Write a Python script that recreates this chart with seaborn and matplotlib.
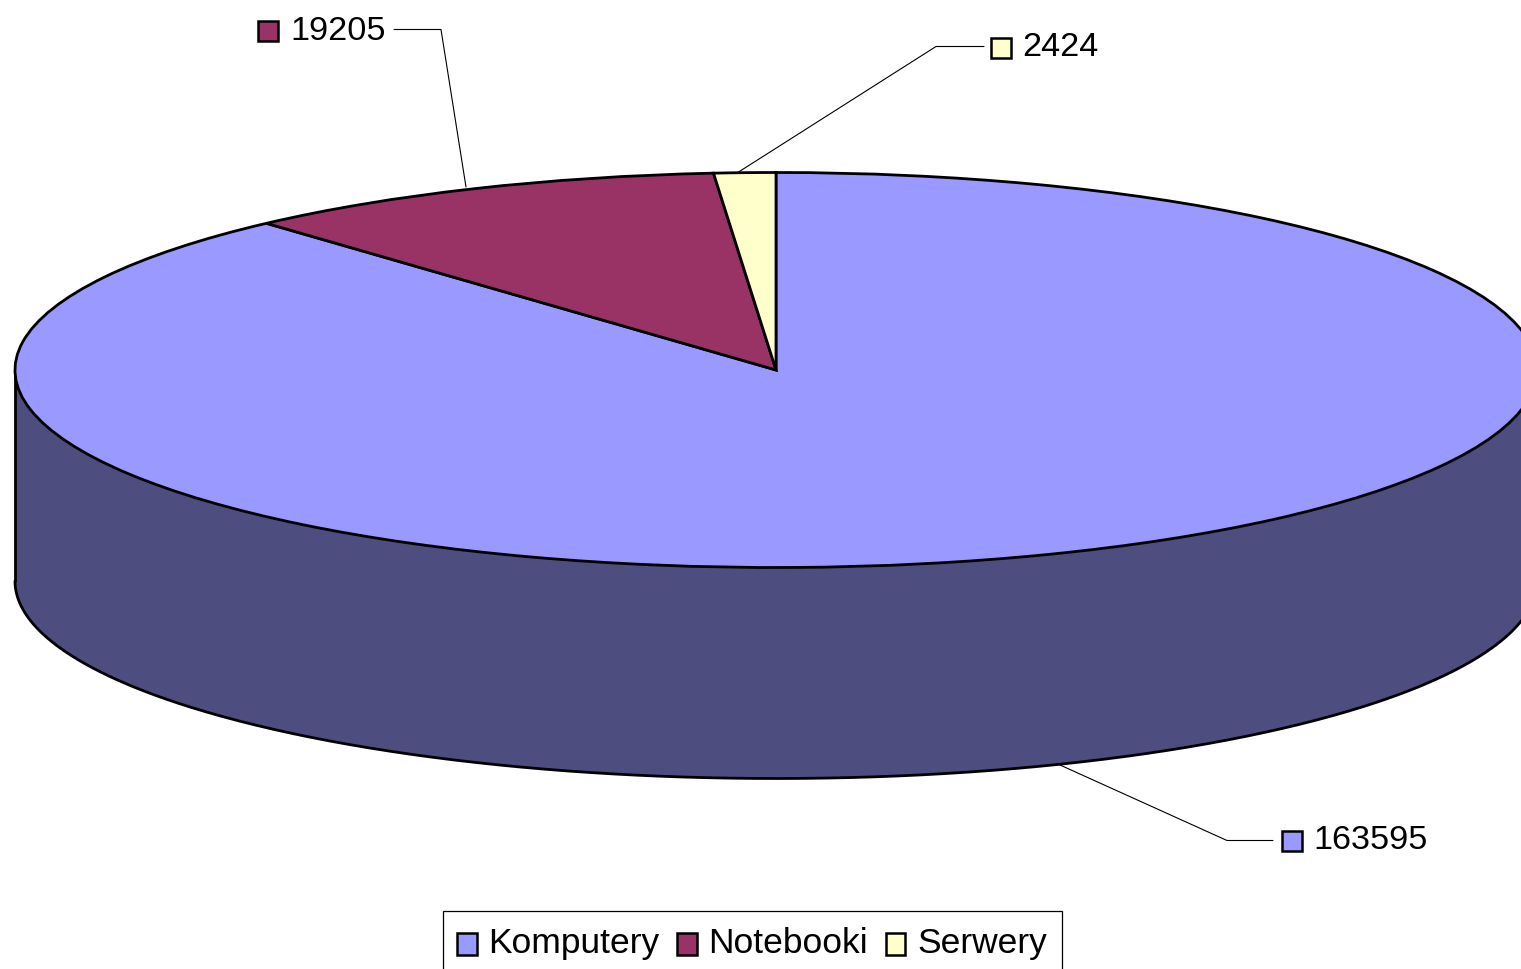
import numpy as np
import matplotlib
matplotlib.use("Agg")
import matplotlib.pyplot as plt
from matplotlib.patches import Patch, Rectangle
from matplotlib.legend_handler import HandlerPatch
import seaborn as sns

categories = ["Komputery", "Notebooki", "Serwery"]
values = [163595, 19205, 2424]
value_labels = ["163595", "19205", "2424"]
colors = ["#9999FF", "#993366", "#FFFFCC"]
side_color = "#4D4D80"

W, H = 1521, 970
CX, CY, RX, RY, DEPTH = 776, 371, 761, 197.5, 211

sns.set_theme(style="white")
plt.rcParams["font.family"] = ["Liberation Sans", "DejaVu Sans"]
plt.rcParams["text.color"] = "black"
palette = sns.color_palette(colors)

fig = plt.figure(figsize=(W / 100, H / 100), dpi=100, facecolor="white")

# Main axes: pie in unit-circle coordinates, squashed into an ellipse
ax = fig.add_axes([0, 0, 1, 1])
LW = 2.0

theta = np.linspace(np.pi, 2 * np.pi, 400)
xs = np.cos(theta)
ys = np.sin(theta)
d = DEPTH / RY
ax.fill_between(xs, ys, ys - d, color=side_color, lw=0, zorder=1)
ax.plot(xs, ys - d, color="black", lw=LW, zorder=2)
ax.plot([-1, -1], [0, -d], color="black", lw=LW, zorder=2)
ax.plot([1, 1], [0, -d], color="black", lw=LW, zorder=2)

wedges, _ = ax.pie(values, colors=palette, startangle=90, counterclock=False,
                   radius=1, center=(0, 0),
                   wedgeprops=dict(edgecolor="black", linewidth=LW, zorder=3))
ax.set_aspect("auto")
ax.set_xlim(-CX / RX, (W - CX) / RX)
ax.set_ylim((CY - H) / RY, CY / RY)
ax.axis("off")

# Overlay axes in pixel coordinates for data-label callouts
ov = fig.add_axes([0, 0, 1, 1], facecolor="none")
ov.set_xlim(0, W)
ov.set_ylim(H, 0)
ov.axis("off")

callouts = [
    dict(line=[(1060, 766), (1227, 841.5), (1273, 841.5)], box=(1291.5, 842), text=(1313, 841)),
    dict(line=[(466, 188), (441, 30.5), (394, 30.5)], box=(268, 31.5), text=(290, 31)),
    dict(line=[(737, 174), (936, 47.5), (984, 47.5)], box=(1001, 48.5), text=(1022, 47)),
]
for c, color, lab in zip(callouts, palette, value_labels):
    lx, ly = zip(*c["line"])
    ov.plot(lx, ly, color="black", lw=0.8, zorder=2)
    ov.plot(*c["box"], marker="s", ms=14, mfc=color, mec="black", mew=1.8, ls="none", zorder=3)
    ov.text(*c["text"], lab, fontsize=24.7, color="black", va="center", ha="left")


def lowered_box(legend, orig_handle, xdescent, ydescent, width, height, fontsize):
    return Rectangle((-xdescent - 0.7, -ydescent - 3.4), width, height)


handles = [Patch(facecolor=col, edgecolor="black", linewidth=1.8) for col in palette]
leg = ov.legend(handles, categories, ncols=3, loc="upper left",
                bbox_to_anchor=(443 / W, 1 - 912 / H), bbox_transform=fig.transFigure,
                fontsize=25.5, frameon=True, fancybox=False, framealpha=1,
                edgecolor="black", borderaxespad=0, borderpad=0.42,
                handlelength=0.56, handleheight=0.56, handletextpad=0.3,
                columnspacing=0.52, labelspacing=0, labelcolor="black",
                handler_map={Patch: HandlerPatch(patch_func=lowered_box)})
leg.get_frame().set_linewidth(0.9)

fig.savefig("out.png", dpi=100, facecolor="white")
